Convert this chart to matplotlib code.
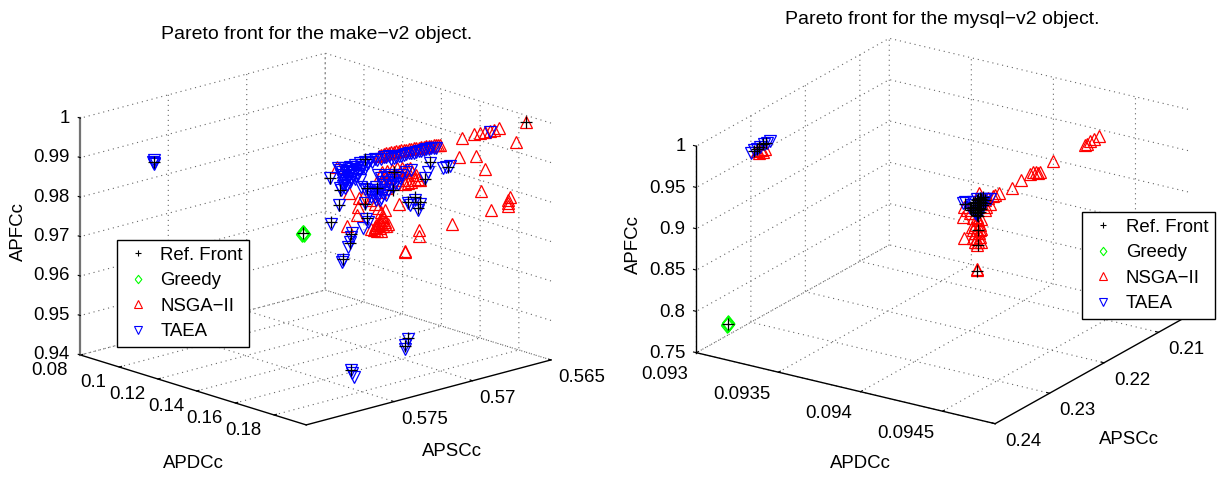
import matplotlib
matplotlib.use("Agg")
import matplotlib.pyplot as plt

plt.rcParams['font.family'] = ['Liberation Sans', 'DejaVu Sans']
plt.rcParams['grid.linestyle'] = (0, (1, 3.5))
plt.rcParams['grid.color'] = '0.4'
plt.rcParams['grid.linewidth'] = 0.8

# make-v2 object: APDCc (x), APSCc (y), APFCc (z)
l_nsga_x = [.1851,.1791,.1849,.1762,.1820,.1733,.1791,.1849,.1796,.1820,.1733,.1791,.1849,.1762,.1820,.1758,.1791,.1849,.1762,.1820,.1733,.1791,.1849,.1762,.1820,.1733,.1791,.1849,.1762,.1820,.1733,.1791,.1849,.1762,.1820,.1733,.1791,.1849,.1762,.1820,
            .1733,.1791,.1849,.1762,.1820,.1733,.1791,.1849,.1762,.1820,.1733,.1791,.1849,.1762,.1820,.1733,.1791,.1849,.1762,.1820,.1733,.1791,.1849,.1762,.1820,.1733,.1791,.1849,.1762,.1820,
            .1733,.1791,.1849,.1762,.1820,.1733,.1791,.1849,.1762,.1820,.1733,.1791,.1849,.1762,.1820,.1733,.1791,.1849,.1762,.1820,.1733,.1791,.1849,.1762,.1820,.1733,.1791,.1849,.1762,.1820,
            .1733,.1791,.1849,.1762,.1820,.1733]
l_nsga_y = [.56516,.56851,.56847,.56703,.56743,.56603,.56648,.56688,.56516,.56908,.56692,.56707,.56800,.56629,.56584,.56516,.56558,.56628,.56877,.57161,.57053,.57212,.57286,.57219,.57607,.57579,.57520,.57653,.57471,.57401,.57261,.57301,.57341,.57202,.57242,.57102,.57142,.57182,.57042,.57083,
            .56943,.56989,.57447,.57308,.57348,.57208,.57248,.57288,.57149,.57189,.57059,.57195,.57246,.57191,.57369,.57304,.57407,.57458,.57329,.57380,.57325,.57376,.57426,.57340,.57390,.57293,.57344,.57458,.57446,.57475,.57335,.57513,.57452,.57314,.57352,.57214,.57255,.57295,.57153,.57195,.57053,.57095,.57133,.56996,.57038,.57287,.57329,.57367,.57229,.57267,.57130,.57168,.57214,.57085,.57295,.57144,.57312,.57473,
            .57344,.57395,.57321,.57365,.57486,.57301,.57358,.57357]
l_nsga_z = [.9988,.9972,.9990,.9966,.9982,.9956,.9971,.9989,.9929,.9934,.9902,.9880,.9842,.9762,.9800,.9775,.9776,.9786,.9753,.9777,.9737,.9725,.9739,.9841,.9918,.9968,.9848,.9843,.9881,.9992,.9968,.9984,1.0000,.9975,.9989,.9963,.9979,.9993,.9967,.9982,
            .9955,.9969,.9951,.9914,.9931,.9908,.9929,.9946,.9923,.9906,.9883,.9894,.9912,.9898,.9904,.9875,.9807,.9825,.9802,.9821,.9785,.9799,.9818,.9812,.9835,.9824,.9842,.9867,.9882,.9886,.9849,.9869,.9999,.9976,.9993,.9967,.9983,.9999,.9972,.9987,.9961,.9976,.9991,.9965,.9980,.9924,.9940,.9955,.9931,.9944,.9914,.9921,.9926,.9886,.9917,.9878,.9906,.9827,.9806,.9827,.9779,.9792,.9815,.9793,.9813,.9788]
l_taea_x = [.1733,.1791,.1849,.1762,.1820,.1733,.1791,.1849,.1762,.1820,.1733,.1791,.1849,.1762,.1820,.1733,.1791,.1849,.1762,.1820,.1733,.1791,.1849,.1762,.1820,.1733,.1791,.1849,.1762,.1820,
            .1733,.1791,.1849,.1762,.1820,.1733,.1791,.1849,.1762,.1820,.1733,.1791,.1849,.1762,.1820,.1733,.1791,.1849,.1762,.1820,.1733,.1791,.1849,.1762,.1820,.1733,.1791,.1849,.1762,.1820,
            .1733,.1791,.1849,.1762,.1820,.1733,.1791,.1849,.1762,.1820,.1733,.1791,.1849,.1762,.1820,.1733,.1791,.1849,.1762,.1820,.1733,.1791,.1849,.1762,.1820,.1733,.1791,.1849,.1762,.1820,
            .1733,.1791,.1849,.1762,.1820,.1733,.1791,.1849,.1762,.1820,.1733,.1791,.1849,.1762,.1820,.1733,.1791,.1849,.1762,.1820,.1733,.1791,.1849,.1762,.1820,.1733,.1791,.1849,.1762,.1820,
            .1733,.1791,.1849,.1762,.1820,.1733,.1791,.1849,.0917,.0917,.0917,.0917,.1849,.1762,.1820,.1733,.1791,.1849]
l_taea_y = [.57616,.57694,.57692,.57594,.57670,.57399,.57460,.57522,.57446,.57588,.57484,.57567,.57649,.57573,.57649,.57123,.57184,.57225,.57085,.57167,.57017,.57057,.57140,.56936,.56987,.56858,.56675,.57575,.57594,.57634,.57495,.57535,.57575,.57435,.57475,.57335,.57620,.57660,.57520,.57560,.57420,.57460,.57681,.57541,.57581,.57442,.57598,.57638,.57499,.57401,.57261,.57301,.57341,.57202,.57242,.57102,.57142,.57182,.57042,.57083,
            .56943,.57471,.57511,.57371,.57411,.57346,.57386,.57426,.57286,.57327,.57187,.57365,.57405,.57265,.57305,.57166,.57206,.57246,.57318,.57358,.57219,.57492,.57469,.57605,.57649,.57512,.57550,.57592,.57450,.57486,.57350,.57392,.57685,.57535,.57577,.57435,.57471,.57660,.57520,.57560,
            .57541,.57581,.57681,.57562,.57386,.57246,.57284,.57324,.57187,.57225,.57087,.57125,.57167,.57025,.57068,.57314,.57354,.57320,.57308,.57348,.57208,.57376,.57479,.57393,.57486,.57329,.57365,.57405,.57734,.57734,.57734,.57741,.57265,.57176,.57253,.57486,.57553,.57613]
l_taea_z = [.9828,.9961,.9938,.9919,.9894,.9856,.9833,.9840,.9802,.9813,.9781,.9785,.9790,.9735,.9748,.9827,.9838,.9864,.9827,.9828,.9879,.9930,.9927,.9900,.9919,.9894,.9970,.9951,.9965,.9983,.9959,.9976,.9994,.9970,.9987,.9961,.9960,.9977,.9953,.9971,.9947,.9968,.9963,.9939,.9960,.9936,.9937,.9954,.9932,.9983,.9958,.9968,.9986,.9960,.9977,.9953,.9969,.9984,.9960,.9975,
            .9949,.9910,.9915,.9874,.9879,.9884,.9885,.9902,.9882,.9904,.9884,.9925,.9942,.9918,.9925,.9903,.9925,.9942,.9898,.9920,.9896,.9915,.9922,.9971,.9976,.9951,.9969,.9987,.9963,.9981,.9956,.9974,.9970,.9944,.9966,.9942,.9961,.9958,.9934,.9955,
            .9923,.9931,.9947,.9916,.9986,.9960,.9969,.9986,.9960,.9978,.9952,.9968,.9984,.9959,.9974,.9919,.9915,.9929,.9886,.9910,.9887,.9896,.9908,.9877,.9912,.9857,.9876,.9895,.9877,.9871,.9867,.9874,.9515,.9478,.9484,.9443,.9452,.9457]
l_ref_x = [.1851,.1791,.1849,.1762,.1820,.1733,.1791,.1849,.1762,.1820,.1733,.1791,.1849,.1762,.1820,.1733,.1791,.1849,.1762,.1820,.1733,.1791,.0917,.1762,.1820,.1733,.1383]
l_ref_y = [.56516,.57688,.57766,.57594,.57670,.57388,.57471,.57464,.57424,.57603,.57537,.57556,.57267,.57117,.57157,.57059,.57089,.57129,.56904,.57320,.57219,.57471,.57734,.57157,.57248,.57486,.57362]
l_ref_z = [.9988,.9849,.9978,.9915,.9894,.9893,.9872,.9919,.9825,.9790,.9729,.9805,.9864,.9848,.9848,.9808,.9895,.9951,.9901,.9941,.9871,.9986,.9873,.9493,.9491,.9443,.9723]
l_greedy_x = [.1383, .1383, .1383, .1383]
l_greedy_y = [.57362, .57362, .57366, .57357]
l_greedy_z = [.9723, .9725, .9723, .9722]

# mysql-v2 object
r_nsga_x = [.094361,.094330,.094307,.094290,.094276,.093174,.093150,.093186,.093162,.093139,.094080,.093975,.093963,.093989,.093953,.094003,.093926,.093897,.093855,.093837,.093845,.093793,.093821,.093811,.093746,.093743,.093745,.093785,.093788,.093785,.093790,.093779,.093795,.093785,.093793,.093779,.093795,.093783,.093790,.093785,.093774,.093800,.093772,.093800,.093774,.093797,.093774,.093800,.093779,.093811,.093816,.093827,.093764,.093753]
r_nsga_y = [.2071,.2071,.2071,.2071,.2071,.2330,.2330,.2330,.2330,.2330,.2071,.2071,.2072,.2071,.2075,.2071,.2083,.2091,.2103,.2108,.2106,.2120,.2112,.2115,.2133,.2134,.2134,.2122,.2122,.2122,.2121,.2124,.2119,.2122,.2120,.2124,.2119,.2123,.2121,.2122,.2125,.2118,.2126,.2118,.2125,.2119,.2125,.2118,.2124,.2115,.2114,.2111,.2128,.2131]
r_nsga_z = [.9552,.9506,.9466,.9426,.9399,.9753,.9729,.9799,.9767,.9748,.9117,.8935,.8927,.8933,.8920,.8948,.8855,.8783,.8742,.8712,.8720,.8769,.8692,.8678,.8626,.8515,.8264,.7846,.7865,.8491,.8448,.8393,.8385,.8330,.8285,.8293,.8243,.8230,.8186,.8149,.8477,.8462,.8377,.8341,.8336,.8323,.8235,.8180,.8192,.8557,.8594,.8629,.8543,.8590]
r_taea_x = [.093748,.093743,.093785,.093790,.093795,.093806,.093816,.093779,.093769,.093800,.093827,.093774,.093785,.093811,.093764,.093779,.093800,.093103,.093120,.093139,.093158,.093179,.093198,.093214]
r_taea_y = [.2133,.2134,.2122,.2121,.2119,.2117,.2114,.2124,.2127,.2118,.2111,.2125,.2122,.2115,.2128,.2124,.2118,.2330,.2330,.2330,.2330,.2330,.2330,.2330]
r_taea_z = [.8693,.8684,.8511,.8549,.8606,.8661,.8695,.8595,.8641,.8704,.8689,.8679,.8705,.8698,.8604,.8535,.8563,.9707,.9747,.9776,.9805,.9848,.9873,.9901]
r_ref_x = [.093748,.093790,.093790,.093788,.093764,.093774,.093785,.093795,.093806,.093779,.093790,.093795,.093806,.093800,.093785,.093774,.093811,.093769,.093779,.093790,.093800,.093769,.093795,.093785,.093793,.093779,.093800,.093790,.093806,.093811,.093774,.093785,.093790,.093795,.093120,.093150,.093174,.093193,.093139,.093074]
r_ref_y = [.2133,.2121,.2121,.2122,.2128,.2125,.2122,.2119,.2117,.2124,.2121,.2119,.2117,.2118,.2122,.2125,.2115,.2127,.2124,.2121,.2118,.2127,.2119,.2122,.2120,.2124,.2118,.2121,.2117,.2115,.2125,.2122,.2121,.2119,.2330,.2330,.2330,.2330,.2330,.2365]
r_ref_z = [.8665,.8327,.8146,.7836,.8604,.8658,.8693,.8707,.8721,.8575,.8529,.8586,.8620,.8664,.8632,.8618,.8678,.8613,.8676,.8710,.8704,.8581,.8546,.8552,.8628,.8635,.8583,.8569,.8681,.8638,.8578,.8511,.8496,.8667,.9739,.9802,.9845,.9870,.9776,.7748]
r_greedy_x = [.093074, .093074, .093070, .093079]
r_greedy_y = [.2365, .2365, .2365, .2365]
r_greedy_z = [.7748, .7760, .7745, .7750]

l_xticks = [0.08, 0.1, 0.12, 0.14, 0.16, 0.18]
l_yticks = [0.575, 0.57, 0.565]
l_zticks = [0.94, 0.95, 0.96, 0.97, 0.98, 0.99, 1]
r_xticks = [0.093, 0.0935, 0.094, 0.0945]
r_yticks = [0.24, 0.23, 0.22, 0.21]
r_zticks = [0.75, 0.8, 0.85, 0.9, 0.95, 1]

fig = plt.figure(figsize=(12.2, 4.79), dpi=100)
FS = 13.4
DIAMOND = [(-0.8, 0), (0, 1), (0.8, 0), (0, -1), (-0.8, 0)]


def setup(title, tx, ty, pos, xlim, ylim, zlim, xt, yt, zt, aspect, view, pads, xlab, ylab, zlab, zline):
    ax = fig.add_axes(pos, projection='3d')
    ax.patch.set_alpha(0)
    ax.computed_zorder = False
    ax.set_proj_type('ortho')
    ax.view_init(elev=view[0], azim=view[1])
    ax.set_xlim(*xlim, view_margin=0)
    ax.set_ylim(*ylim, view_margin=0)
    ax.set_zlim(*zlim, view_margin=0)
    ax.set_box_aspect(aspect)
    ax.set_xticks(xt, [str(t) for t in xt], fontsize=FS, ha='right', va=pads[3])
    ax.set_yticks(yt, [str(t) for t in yt], fontsize=FS, ha='left', va='top')
    ax.set_zticks(zt, [str(t) for t in zt], fontsize=FS, ha='right', va='center')
    ax.tick_params(axis='x', pad=pads[0])
    ax.tick_params(axis='y', pad=pads[1])
    ax.tick_params(axis='z', pad=pads[2])
    # z axis on the left corner
    ax.zaxis._axinfo['juggled'] = (1, 2, 0)
    for a in (ax.xaxis, ax.yaxis, ax.zaxis):
        a.set_pane_color((1, 1, 1, 0))
        a.pane.set_edgecolor((1, 1, 1, 0))
        a._axinfo['tick']['inward_factor'] = 0.0
        a._axinfo['tick']['outward_factor'] = 0.12
        a._axinfo['tick']['linewidth'] = {True: 0.8, False: 0.8}
        a.line.set_linewidth(1.0)
    ax.zaxis.line.set_color(zline[0])
    ax.zaxis.line.set_linewidth(zline[1])
    ax.text2D(xlab[0] / 1220, 1 - xlab[1] / 479, 'APDCc', transform=fig.transFigure, fontsize=FS, ha='center', va='center')
    ax.text2D(ylab[0] / 1220, 1 - ylab[1] / 479, 'APSCc', transform=fig.transFigure, fontsize=FS, ha='center', va='center')
    ax.text2D(zlab[0] / 1220, 1 - zlab[1] / 479, 'APFCc', transform=fig.transFigure, fontsize=FS, ha='center', va='center', rotation=90)
    ax.set_title(title, fontsize=14, x=tx / 1220, y=(1 - ty / 479) / 0.92, transform=fig.transFigure, va='center')
    return ax


def draw(ax, nsga, taea, ref, greedy, box):
    ms = 8.6
    ax.plot(*nsga, ls='none', marker='^', mfc='none', mec='red', ms=ms, mew=0.9)
    ax.plot(*greedy, ls='none', marker=DIAMOND, mfc='none', mec='#00ff00', ms=11, mew=1.0)
    ax.plot(*taea, ls='none', marker='v', mfc='none', mec='blue', ms=ms, mew=0.9)
    ax.plot(*ref, ls='none', marker='+', color='black', ms=ms, mew=0.9)
    handles = [plt.Line2D([], [], ls='none', marker='+', mfc='none', mec='black', ms=5, mew=0.8, label='Ref. Front'),
               plt.Line2D([], [], ls='none', marker=DIAMOND, mfc='none', mec='#00ff00', ms=6, mew=0.8, label='Greedy'),
               plt.Line2D([], [], ls='none', marker='^', mfc='none', mec='red', ms=5.5, mew=0.8, label='NSGA\u2212II'),
               plt.Line2D([], [], ls='none', marker='v', mfc='none', mec='blue', ms=5.5, mew=0.8, label='TAEA')]
    ax.legend(handles=handles, fontsize=FS, loc='lower left', bbox_to_anchor=(box[0] / 1220, 1 - box[1] / 479),
              bbox_transform=fig.transFigure, borderaxespad=0, fancybox=False, framealpha=1, edgecolor='black',
              labelspacing=0.46, handlelength=1.6, handletextpad=0.4, borderpad=0.35)


ax1 = setup('Pareto front for the make\u2212v2 object.', 316.5, 34.5, [0.04145, -0.05257, 0.42321, 1.07789],
            (0.08, 0.1966), (0.5806, 0.565), (0.94, 1), l_xticks, l_yticks, l_zticks,
            (332.6, 333.9, 247.4), (16.66, -42.8), (2, -2, -3.6, 'center'), (193, 463), (452, 452), (18, 232), ('0.45', 1.6))
ax2 = setup('Pareto front for the mysql\u2212v2 object.', 942, 19, [0.54808, -0.0533, 0.43662, 1.11206],
            (0.093, 0.09482), (0.24, 0.2046), (0.75, 1), r_xticks, r_yticks, r_zticks,
            (356.9, 353.5, 222), (21.38, -56.9), (0.5, -1.5, -3.6, 'top'), (860, 464), (1129, 440), (633, 245), ('black', 1.0))

draw(ax1, (l_nsga_x, l_nsga_y, l_nsga_z), (l_taea_x, l_taea_y, l_taea_z), (l_ref_x, l_ref_y, l_ref_z),
     (l_greedy_x, l_greedy_y, l_greedy_z), (116.7, 347))
draw(ax2, (r_nsga_x, r_nsga_y, r_nsga_z), (r_taea_x, r_taea_y, r_taea_z), (r_ref_x, r_ref_y, r_ref_z),
     (r_greedy_x, r_greedy_y, r_greedy_z), (1082, 319))

fig.savefig('out.png', dpi=100)
